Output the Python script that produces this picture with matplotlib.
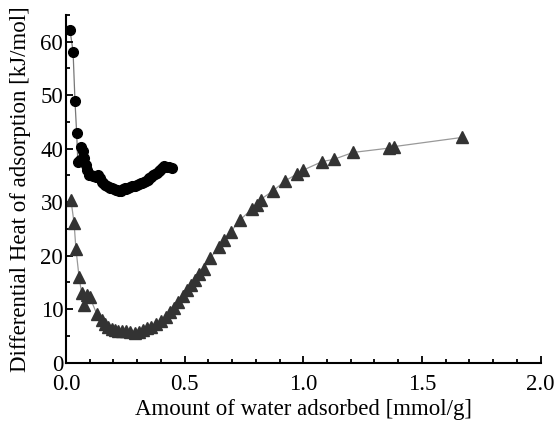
import numpy as np
import matplotlib
matplotlib.use('Agg')
import matplotlib.pyplot as plt
from matplotlib.ticker import MultipleLocator, FormatStrFormatter

plt.rcParams['font.family'] = ['Liberation Serif', 'DejaVu Serif']

# circles
x_circ = [0.017, 0.030, 0.038, 0.045, 0.050, 0.058, 0.065, 0.072, 0.078, 0.085,
          0.090, 0.095, 0.105, 0.115, 0.125, 0.135, 0.145, 0.150, 0.158, 0.165,
          0.172, 0.180, 0.187, 0.195, 0.202, 0.210, 0.217, 0.225, 0.232, 0.240,
          0.247, 0.255, 0.262, 0.270, 0.277, 0.285, 0.292, 0.300, 0.307, 0.315,
          0.322, 0.330, 0.337, 0.345, 0.352, 0.360, 0.367, 0.375, 0.382, 0.390,
          0.397, 0.405, 0.415, 0.425, 0.435, 0.445]
y_circ = [62.2, 58.1, 48.9, 43.0, 37.5, 37.8, 40.4, 39.5, 38.3, 37.0,
          36.0, 35.0, 35.0, 34.9, 34.8, 35.0, 34.5, 33.8, 33.5, 33.3,
          33.1, 32.9, 32.7, 32.6, 32.4, 32.3, 32.2, 32.0, 32.1, 32.4,
          32.6, 32.5, 32.7, 32.8, 33.0, 33.0, 33.1, 33.3, 33.4, 33.5,
          33.6, 33.8, 34.0, 34.2, 34.5, 34.8, 35.0, 35.2, 35.5, 35.8,
          36.1, 36.4, 36.8, 36.6, 36.5, 36.4]

# triangles
x_tri = [0.021, 0.034, 0.042, 0.055, 0.066, 0.076, 0.087, 0.101, 0.130, 0.150,
         0.165, 0.179, 0.193, 0.207, 0.221, 0.235, 0.252, 0.270, 0.291, 0.308,
         0.326, 0.343, 0.360, 0.380, 0.400, 0.420, 0.440, 0.457, 0.474, 0.492,
         0.510, 0.527, 0.544, 0.562, 0.580, 0.608, 0.643, 0.664, 0.695, 0.734,
         0.783, 0.805, 0.820, 0.872, 0.924, 0.975, 1.000, 1.080, 1.128, 1.210,
         1.360, 1.384, 1.668]
y_tri = [30.4, 26.2, 21.3, 16.1, 13.0, 10.8, 12.7, 12.2, 9.1, 8.0,
         7.3, 6.7, 6.3, 6.1, 6.0, 6.0, 5.9, 5.8, 5.5, 5.8,
         6.1, 6.4, 6.7, 7.2, 7.8, 8.6, 9.4, 10.3, 11.3, 12.4,
         13.6, 14.5, 15.5, 16.5, 17.6, 19.5, 21.7, 22.9, 24.5, 26.7,
         28.7, 29.5, 30.5, 32.1, 34.0, 35.3, 36.0, 37.6, 38.0, 39.3,
         40.1, 40.4, 42.1]

fig = plt.figure(figsize=(5.59, 4.21), dpi=100)
ax = fig.add_axes([0.118, 0.1385, 0.849, 0.826])

ax.plot(x_tri, y_tri, '-', color='#999999', lw=0.9, zorder=1)
ax.plot(x_tri, y_tri, '^', color='#333333', ms=8, mec='#333333', ls='none', zorder=2)
ax.plot(x_circ, y_circ, '-', color='#777777', lw=0.9, zorder=1)
ax.plot(x_circ, y_circ, 'o', color='black', ms=7, ls='none', zorder=3)

ax.set_xlim(0, 2.0)
ax.set_ylim(0, 65)
ax.xaxis.set_major_locator(MultipleLocator(0.5))
ax.xaxis.set_minor_locator(MultipleLocator(0.1))
ax.yaxis.set_major_locator(MultipleLocator(10))
ax.yaxis.set_minor_locator(MultipleLocator(5))
ax.xaxis.set_major_formatter(FormatStrFormatter('%.1f'))

for s in ['top', 'right']:
    ax.spines[s].set_visible(False)
for s in ['left', 'bottom']:
    ax.spines[s].set_linewidth(1.5)

ax.tick_params(which='both', direction='in', width=1.3, labelsize=16.5, colors='black')
ax.tick_params(which='major', length=5)
ax.tick_params(which='minor', length=3)
ax.tick_params(axis='x', pad=8)
ax.tick_params(axis='y', pad=2)

ax.set_xlabel('Amount of water adsorbed [mmol/g]', fontsize=16.5, labelpad=3)
ax.set_ylabel('Differential Heat of adsorption [kJ/mol]', fontsize=16.5, labelpad=7)

plt.savefig('out.png', dpi=100)
